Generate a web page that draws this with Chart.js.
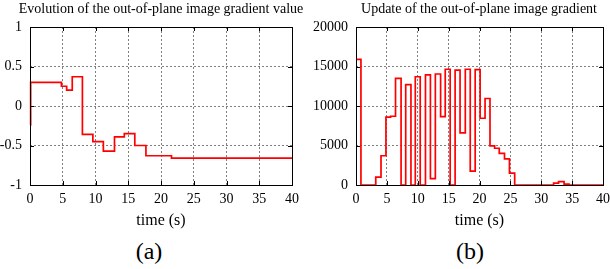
<!DOCTYPE html>
<html>
<head>
<meta charset="utf-8">
<script src="https://cdn.jsdelivr.net/npm/chart.js@4/dist/chart.umd.min.js"></script>
<style>
  html, body { margin: 0; padding: 0; background: #fff; overflow: hidden; width: 610px; height: 269px; }
  #wrap { position: relative; width: 610px; height: 269px; overflow: hidden; }
  canvas { position: absolute; top: 0; }
  .lbl { position: absolute; font-family: "Liberation Serif", "Times New Roman", serif; color: #000; white-space: nowrap; transform: translate(-50%, -50%); }
</style>
</head>
<body>
<div id="wrap">
  <canvas id="c1" width="305" height="235" style="left:0px;width:305px;height:235px"></canvas>
  <canvas id="c2" width="320" height="235" style="left:305px;width:320px;height:235px"></canvas>
  <div class="lbl" style="left:161px;top:9px;font-size:14px">Evolution of the out-of-plane image gradient value</div>
  <div class="lbl" style="left:479px;top:9px;font-size:14px">Update of the out-of-plane image gradient</div>
  <div class="lbl" style="left:149px;top:251px;font-size:24px">(a)</div>
  <div class="lbl" style="left:470px;top:251px;font-size:24px">(b)</div>
</div>
<script>
// ---- data ----
const timeA = [0, 0.1, 4.8, 5.6, 6.45, 8.0, 9.6, 11.2, 12.9, 14.4, 16.0, 17.7, 21.6, 40];
const valueA = [-0.24, 0.3, 0.25, 0.2, 0.37, -0.36, -0.45, -0.57, -0.39, -0.35, -0.5, -0.63, -0.66, -0.66];

const timeB = [0, 0.8, 3.2, 4.05, 4.85, 5.6, 6.4, 7.3, 8.05, 8.9, 9.6, 10.4, 11.25, 12.05, 12.85, 13.7, 14.45, 15.25, 16.05, 16.85, 17.7, 18.5, 19.3, 20.1, 20.9, 21.7, 22.45, 23.2, 24.05, 24.85, 25.7, 32.0, 32.8, 33.7, 34.5, 40];
const valueB = [15900, 0, 1000, 3700, 8600, 8700, 13500, 0, 12700, 0, 13700, 0, 13950, 800, 14050, 8650, 14650, 0, 14550, 6600, 14650, 1750, 14600, 8450, 10950, 4950, 4650, 4000, 3300, 1500, 0, 250, 420, 100, 0, 0];

const xTicks = [0, 5, 10, 15, 20, 25, 30, 35, 40];
const yTicksA = [-1, -0.5, 0, 0.5, 1];
const yTicksB = [0, 5000, 10000, 15000, 20000];

const xLabel = 'time (s)';

// ---- helpers ----
const serif = 'Liberation Serif, Times New Roman, serif';

const boxPlugin = {
  id: 'box',
  afterDraw(chart) {
    const { ctx, chartArea: a, scales } = chart;
    ctx.save();
    ctx.strokeStyle = '#000';
    ctx.lineWidth = 1;
    ctx.setLineDash([]);
    const tl = 4;
    ctx.beginPath();
    scales.x.ticks.forEach(t => {
      const px = Math.round(scales.x.getPixelForValue(t.value)) + 0.5;
      ctx.moveTo(px, a.bottom); ctx.lineTo(px, a.bottom - tl);
      ctx.moveTo(px, a.top); ctx.lineTo(px, a.top + tl);
    });
    scales.y.ticks.forEach(t => {
      const py = Math.round(scales.y.getPixelForValue(t.value)) + 0.5;
      ctx.moveTo(a.left, py); ctx.lineTo(a.left + tl, py);
      ctx.moveTo(a.right, py); ctx.lineTo(a.right - tl, py);
    });
    ctx.stroke();
    ctx.strokeRect(Math.round(a.left) + 0.5, Math.round(a.top) + 0.5, Math.round(a.right - a.left), Math.round(a.bottom - a.top));
    ctx.restore();
  }
};

function makeChart(id, times, values, yTicks, yWidth, padRight) {
  const pts = times.map((t, i) => ({ x: t, y: values[i] }));
  return new Chart(document.getElementById(id), {
    type: 'line',
    data: {
      datasets: [{
        data: pts,
        stepped: true,
        borderColor: '#ff0000',
        borderWidth: 1.7,
        pointRadius: 0,
        fill: false,
        clip: false
      }]
    },
    options: {
      responsive: false,
      animation: false,
      devicePixelRatio: 1,
      layout: { padding: { top: 27, right: padRight, bottom: 0, left: 0 } },
      plugins: { legend: { display: false }, tooltip: { enabled: false }, title: { display: false } },
      scales: {
        x: {
          type: 'linear',
          min: 0, max: 40,
          afterBuildTicks(s) { s.ticks = xTicks.map(v => ({ value: v })); },
          ticks: { color: '#000', font: { family: serif, size: 14 }, padding: 6, maxRotation: 0, autoSkip: false, callback: v => String(v) },
          grid: { color: 'rgba(0,0,0,0.5)', lineWidth: 1, drawTicks: false },
          border: { display: false, dash: [2, 2] },
          title: { display: true, text: xLabel, color: '#000', font: { family: serif, size: 16, lineHeight: 1.2 }, padding: { top: 0, bottom: 5 } },
          afterFit(s) { s.height = 50; s.paddingLeft = 0; s.paddingRight = 0; }
        },
        y: {
          type: 'linear',
          min: yTicks[0], max: yTicks[yTicks.length - 1],
          afterBuildTicks(s) { s.ticks = yTicks.map(v => ({ value: v })); },
          ticks: { color: '#000', font: { family: serif, size: 14 }, padding: 8, autoSkip: false, callback: v => String(v) },
          grid: { color: 'rgba(0,0,0,0.5)', lineWidth: 1, drawTicks: false },
          border: { display: false, dash: [2, 2] },
          afterFit(s) { s.width = yWidth; s.paddingTop = 0; s.paddingBottom = 0; }
        }
      }
    },
    plugins: [boxPlugin]
  });
}

makeChart('c1', timeA, valueA, yTicksA, 30, 13);
makeChart('c2', timeB, valueB, yTicksB, 51, 22);
</script>
</body>
</html>
